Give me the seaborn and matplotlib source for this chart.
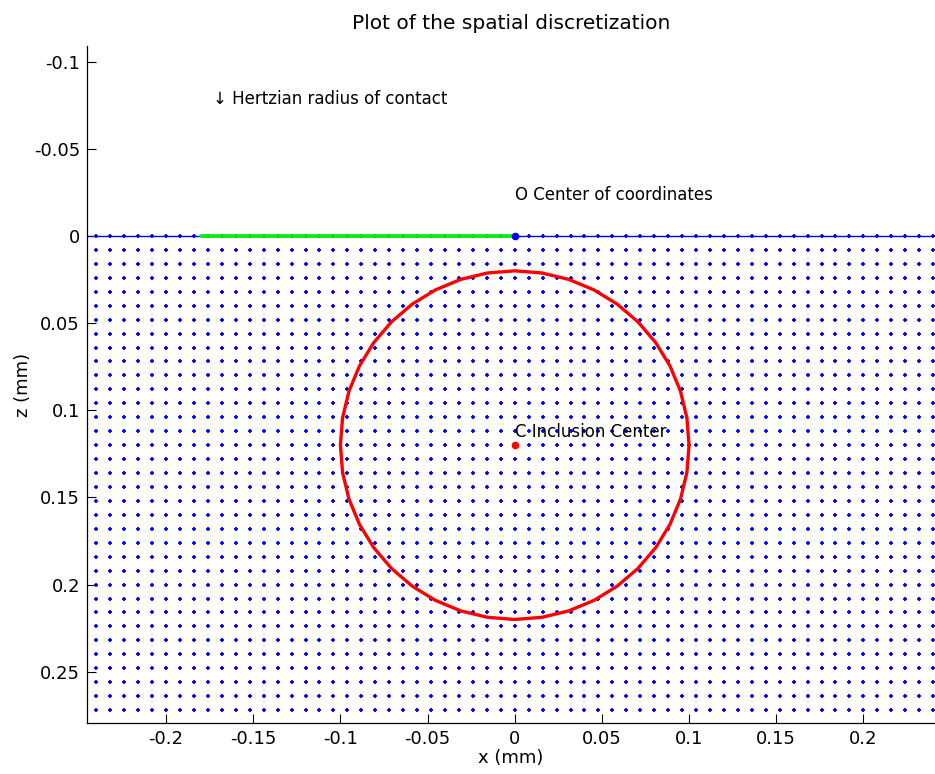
import numpy as np
import pandas as pd
import matplotlib
matplotlib.use("Agg")
import matplotlib.pyplot as plt
import seaborn as sns

# Discretization grid (mm)
grid_x_min, grid_x_max = -0.24, 0.24
grid_z_min, grid_z_max = 0.0, 0.272
grid_step = 0.008

# Hertzian contact half-width (mm)
contact_x = [-0.18, 0.0]
contact_z = [0.0, 0.0]

# Inclusion: centre and radius (mm)
inclusion_center = (0.0, 0.12)
inclusion_radius = 0.1
inclusion_segments = 40

# Axis ticks
xticks = [-0.2, -0.15, -0.1, -0.05, 0, 0.05, 0.1, 0.15, 0.2]
yticks = [-0.1, -0.05, 0, 0.05, 0.1, 0.15, 0.2, 0.25]

sns.set_style("white")
plt.rcParams["font.family"] = ["DejaVu Sans"]
plt.rcParams["axes.unicode_minus"] = False
for key in ("text.color", "axes.labelcolor", "xtick.color", "ytick.color",
            "axes.edgecolor"):
    plt.rcParams[key] = "black"

gx = np.arange(grid_x_min, grid_x_max + grid_step / 2, grid_step)
gz = np.arange(grid_z_min, grid_z_max + grid_step / 2, grid_step)
GX, GZ = np.meshgrid(gx, gz)
grid = pd.DataFrame({"x": GX.ravel(), "z": GZ.ravel()})

theta = np.linspace(0, 2 * np.pi, inclusion_segments + 1)
circle = pd.DataFrame({
    "x": inclusion_center[0] + inclusion_radius * np.cos(theta),
    "z": inclusion_center[1] + inclusion_radius * np.sin(theta),
})

fig = plt.figure(figsize=(9.35, 7.74), dpi=100)
ax = fig.add_axes([0.093, 0.0659, 0.907, 0.8747])

# surface line
ax.axhline(0, color="blue", lw=1.0, zorder=1)

sns.scatterplot(data=grid, x="x", y="z", ax=ax, marker="+", s=12,
                color="blue", linewidth=1.3, legend=False, zorder=2)

sns.lineplot(x=contact_x, y=contact_z, ax=ax, color="#00ee00", lw=2.6,
             sort=False, zorder=3)

sns.lineplot(data=circle, x="x", y="z", ax=ax, color="red", lw=2.4,
             sort=False, estimator=None, zorder=4)

ax.plot([0], [0], "o", color="blue", ms=4.5, zorder=5)
ax.plot([inclusion_center[0]], [inclusion_center[1]], "o", color="red",
        ms=4.5, zorder=5)

fs_text = 12
ax.text(-0.173, -0.0785, "↓ Hertzian radius of contact", fontsize=fs_text,
        va="center", ha="left", color="black")
ax.text(0.0, -0.0235, "O Center of coordinates", fontsize=fs_text,
        va="center", ha="left", color="black")
ax.text(0.0, 0.1125, "C Inclusion Center", fontsize=fs_text,
        va="center", ha="left", color="black")

ax.set_xlim(-0.2454, 0.2411)
ax.set_ylim(0.2794, -0.109)
ax.set_xticks(xticks)
ax.set_yticks(yticks)
ax.set_xticklabels([f"{v:g}" for v in xticks])
ax.set_yticklabels([f"{v:g}" for v in yticks])
ax.tick_params(direction="in", length=6.5, width=0.8, labelsize=13,
               left=True, bottom=True, pad=5, colors="black")

for side in ("top", "right"):
    ax.spines[side].set_visible(False)
for side in ("left", "bottom"):
    ax.spines[side].set_color("black")
    ax.spines[side].set_linewidth(0.9)

ax.set_xlabel("x (mm)", fontsize=13, labelpad=1, color="black")
ax.set_ylabel("z (mm)", fontsize=13, labelpad=1, color="black")
ax.set_title("Plot of the spatial discretization", fontsize=14.5, pad=12,
             color="black")

fig.savefig("out.png", dpi=100)
